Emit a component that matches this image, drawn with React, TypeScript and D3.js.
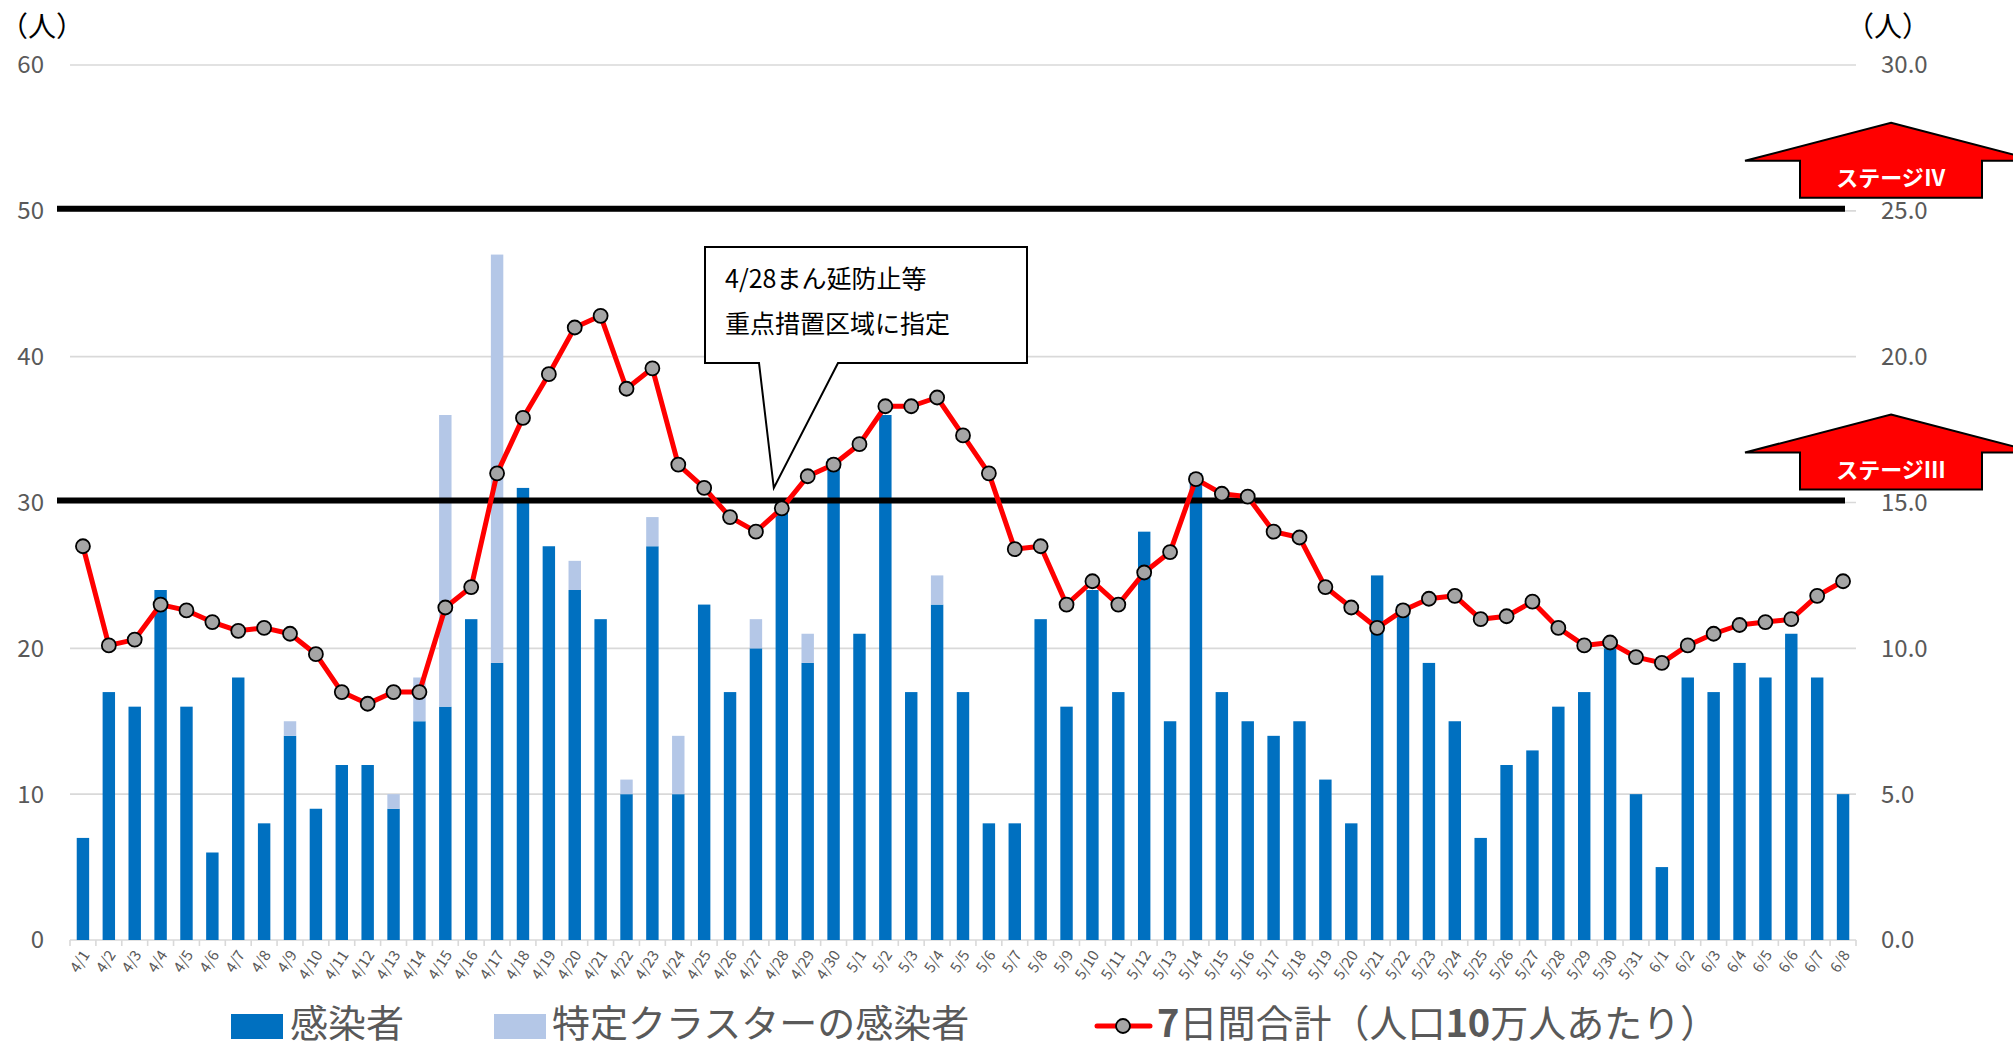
import React from 'react';
import * as d3 from 'd3';

// x categories (daily)
const dates = [
  '4/1', '4/2', '4/3', '4/4', '4/5', '4/6', '4/7', '4/8', '4/9', '4/10',
  '4/11', '4/12', '4/13', '4/14', '4/15', '4/16', '4/17', '4/18', '4/19', '4/20',
  '4/21', '4/22', '4/23', '4/24', '4/25', '4/26', '4/27', '4/28', '4/29', '4/30',
  '5/1', '5/2', '5/3', '5/4', '5/5', '5/6', '5/7', '5/8', '5/9', '5/10',
  '5/11', '5/12', '5/13', '5/14', '5/15', '5/16', '5/17', '5/18', '5/19', '5/20',
  '5/21', '5/22', '5/23', '5/24', '5/25', '5/26', '5/27', '5/28', '5/29', '5/30',
  '5/31', '6/1', '6/2', '6/3', '6/4', '6/5', '6/6', '6/7', '6/8',
];

// 感染者 (not in cluster)
const infected = [
  7, 17, 16, 24, 16, 6, 18, 8, 14, 9,
  12, 12, 9, 15, 16, 22, 19, 31, 27, 24,
  22, 10, 27, 10, 23, 17, 20, 30, 19, 33,
  21, 36, 17, 23, 17, 8, 8, 22, 16, 24,
  17, 28, 15, 32, 17, 15, 14, 15, 11, 8,
  25, 23, 19, 15, 7, 12, 13, 16, 17, 20,
  10, 5, 18, 17, 19, 18, 21, 18, 10,
];

// 特定クラスターの感染者 (stacked on top)
const cluster = [
  0, 0, 0, 0, 0, 0, 0, 0, 1, 0,
  0, 0, 1, 3, 20, 0, 28, 0, 0, 2,
  0, 1, 2, 4, 0, 0, 2, 0, 2, 0,
  0, 0, 0, 2, 0, 0, 0, 0, 0, 0,
  0, 0, 0, 0, 0, 0, 0, 0, 0, 0,
  0, 0, 0, 0, 0, 0, 0, 0, 0, 0,
  0, 0, 0, 0, 0, 0, 0, 0, 0,
];

// 7日間合計（人口10万人あたり） - right axis
const weekly = [
  13.5, 10.1, 10.3, 11.5, 11.3, 10.9, 10.6, 10.7, 10.5, 9.8,
  8.5, 8.1, 8.5, 8.5, 11.4, 12.1, 16.0, 17.9, 19.4, 21.0,
  21.4, 18.9, 19.6, 16.3, 15.5, 14.5, 14.0, 14.8, 15.9, 16.3,
  17.0, 18.3, 18.3, 18.6, 17.3, 16.0, 13.4, 13.5, 11.5, 12.3,
  11.5, 12.6, 13.3, 15.8, 15.3, 15.2, 14.0, 13.8, 12.1, 11.4,
  10.7, 11.3, 11.7, 11.8, 11.0, 11.1, 11.6, 10.7, 10.1, 10.2,
  9.7, 9.5, 10.1, 10.5, 10.8, 10.9, 11.0, 11.8, 12.3,
];

const leftTicks = [0, 10, 20, 30, 40, 50, 60];
const rightTicks = [0, 5, 10, 15, 20, 25, 30];
const stages = [
  { label: 'ステージⅣ', value: 50 },
  { label: 'ステージⅢ', value: 30 },
];
const calloutLines = ['4/28まん延防止等', '重点措置区域に指定'];
const calloutDate = '4/28';

const W = 2013;
const H = 1049;
const FONT = '"Noto Sans CJK JP", "Noto Sans", sans-serif';
const GRAY = '#595959';
const DARK = '#0070C0';
const LIGHT = '#B4C7E7';

const App: React.FC = () => {
  const x = d3.scaleBand<string>().domain(dates).range([70, 1856]).padding(0);
  const yL = d3.scaleLinear().domain([0, 60]).range([940, 65]);
  const yR = d3.scaleLinear().domain([0, 30]).range([940, 65]);
  const bw = x.bandwidth() * 0.48;
  const cx = (d: string) => (x(d) ?? 0) + x.bandwidth() / 2;

  const line = d3.line<number>()
    .x((_, i) => cx(dates[i]))
    .y(d => yR(d));

  const tipX = cx(calloutDate) - 8;

  return (
    <div style={{ position: 'absolute', left: 0, top: 0 }}>
      <svg width={W} height={H} style={{ display: 'block', background: '#fff' }} fontFamily={FONT}>
        <rect width={W} height={H} fill="#fff" />

        {/* gridlines */}
        {leftTicks.map(t => (
          <line key={'g' + t} x1={70} x2={1856} y1={yL(t)} y2={yL(t)} stroke="#D9D9D9" strokeWidth={1.6} />
        ))}
        {/* x axis ticks */}
        {d3.range(dates.length + 1).map(i => {
          const xx = 70 + i * x.bandwidth();
          return <line key={'t' + i} x1={xx} x2={xx} y1={940} y2={946} stroke="#D9D9D9" strokeWidth={1.6} />;
        })}

        {/* axis labels */}
        {leftTicks.map(t => (
          <text key={'l' + t} x={44} y={yL(t)} dy="0.35em" textAnchor="end" fontSize={24} fill={GRAY}>{t}</text>
        ))}
        {rightTicks.map(t => (
          <text key={'r' + t} x={1881} y={yR(t)} dy="0.35em" fontSize={24} fill={GRAY}>{t.toFixed(1)}</text>
        ))}
        <text x={0} y={37} fontSize={28} fill="#000">（人）</text>
        <text x={1846} y={37} fontSize={28} fill="#000">（人）</text>

        {/* bars */}
        {dates.map((d, i) => (
          <g key={'b' + d}>
            <rect x={cx(d) - bw / 2} y={yL(infected[i])} width={bw} height={yL(0) - yL(infected[i])} fill={DARK} />
            {cluster[i] > 0 && (
              <rect x={cx(d) - bw / 2} y={yL(infected[i] + cluster[i])} width={bw}
                height={yL(infected[i]) - yL(infected[i] + cluster[i])} fill={LIGHT} />
            )}
          </g>
        ))}

        {/* x tick labels */}
        {dates.map(d => (
          <text key={'x' + d} transform={`translate(${cx(d) + 3},${952}) rotate(-57)`} textAnchor="end" dy="0.35em"
            fontSize={15} fill={GRAY}>{d}</text>
        ))}

        {/* stage threshold lines */}
        {stages.map(s => (
          <line key={'s' + s.value} x1={57} x2={1845} y1={yL(s.value) - 2} y2={yL(s.value) - 2} stroke="#000" strokeWidth={6} />
        ))}

        {/* 7-day line */}
        <path d={line(weekly) ?? ''} fill="none" stroke="#FF0000" strokeWidth={5} strokeLinejoin="round" />
        {weekly.map((v, i) => (
          <circle key={'m' + i} cx={cx(dates[i])} cy={yR(v)} r={7} fill="#A5A5A5" stroke="#000" strokeWidth={1.8} />
        ))}

        {/* stage arrows */}
        {stages.map(s => {
          const b = yL(s.value) - 13;
          const pts = [
            [1891, b - 75], [2037, b - 37], [1982, b - 37], [1982, b],
            [1800, b], [1800, b - 37], [1745, b - 37],
          ];
          return (
            <g key={'a' + s.value}>
              <polygon points={pts.map(p => p.join(',')).join(' ')} fill="#FF0000" stroke="#000" strokeWidth={2} />
              <text x={1891} y={b - 12} textAnchor="middle" fontSize={22} fontWeight="bold" fill="#fff">{s.label}</text>
            </g>
          );
        })}

        {/* callout */}
        <path d={`M705,247 H1027 V363 H838 L${tipX},488 L759,363 H705 Z`} fill="#fff" stroke="#000" strokeWidth={2} />
        {calloutLines.map((t, i) => (
          <text key={'c' + i} x={725} y={288 + i * 45} fontSize={25} fill="#000">{t}</text>
        ))}

        {/* legend */}
        <rect x={231} y={1014} width={52} height={25} fill={DARK} />
        <text x={290} y={1037} fontSize={38} fill={GRAY}>感染者</text>
        <rect x={494} y={1014} width={52} height={25} fill={LIGHT} />
        <text x={552} y={1037} fontSize={38} fill={GRAY}>特定クラスターの感染者</text>
        <line x1={1097} x2={1150} y1={1026} y2={1026} stroke="#FF0000" strokeWidth={5} strokeLinecap="round" />
        <circle cx={1123} cy={1026} r={7} fill="#A5A5A5" stroke="#000" strokeWidth={1.8} />
        <text x={1157} y={1037} fontSize={38} fill={GRAY}>
          <tspan fontWeight="bold">7</tspan>日間合計（人口<tspan fontWeight="bold">10</tspan>万人あたり）
        </text>
      </svg>
    </div>
  );
};

export default App;
